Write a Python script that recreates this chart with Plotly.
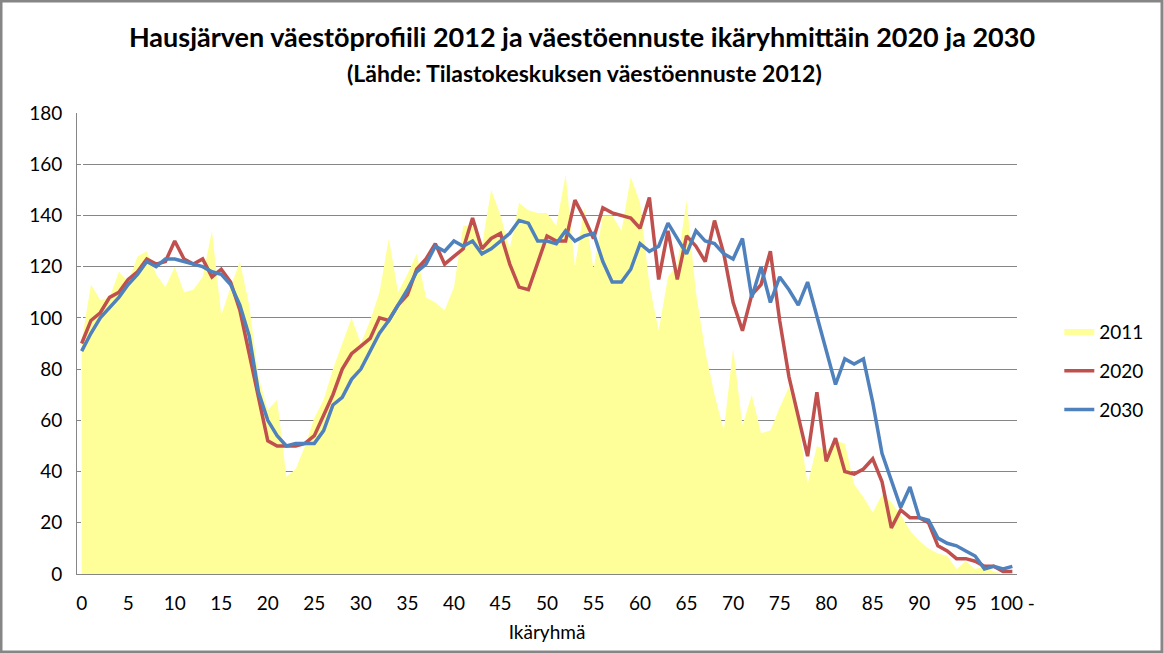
import plotly.graph_objects as go

# age groups 0..100 (last one is "100 -")
ages = list(range(101))
tick_vals = list(range(0, 101, 5))
tick_text = [str(v) for v in range(0, 100, 5)] + ["100 -"]

pop_2011 = [91, 113, 107, 108, 118, 114, 124, 126, 117, 112,
            120, 110, 111, 116, 134, 101, 112, 122, 105, 77,
            64, 68, 38, 41, 50, 61, 68, 80, 90, 100,
            90, 99, 110, 131, 110, 117, 125, 108, 106, 103,
            112, 136, 136, 128, 150, 140, 127, 145, 142, 141,
            141, 136, 156, 120, 143, 119, 140, 140, 134, 155,
            145, 113, 95, 116, 121, 146, 110, 87, 70, 56,
            88, 58, 70, 55, 56, 65, 73, 60, 35, 50,
            48, 52, 51, 35, 30, 24, 31, 28, 23, 17,
            13, 10, 8, 7, 2, 5, 2, 3, 1, 0, 0]

pop_2020 = [90, 99, 102, 108, 110, 115, 118, 123, 121, 122,
            130, 123, 121, 123, 116, 119, 114, 103, 86, 69,
            52, 50, 50, 50, 51, 54, 62, 70, 80, 86,
            89, 92, 100, 99, 105, 109, 119, 123, 129, 121,
            124, 127, 139, 127, 131, 133, 121, 112, 111, 121,
            132, 130, 130, 146, 139, 131, 143, 141, 140, 139,
            135, 147, 115, 134, 115, 132, 128, 122, 138, 125,
            106, 95, 109, 113, 126, 99, 77, 61, 46, 71,
            44, 53, 40, 39, 41, 45, 36, 18, 25, 22,
            22, 20, 11, 9, 6, 6, 5, 3, 3, 1, 1]

pop_2030 = [87, 94, 100, 104, 108, 113, 117, 122, 120, 123,
            123, 122, 121, 120, 118, 117, 113, 105, 93, 71,
            60, 54, 50, 51, 51, 51, 56, 66, 69, 76,
            80, 87, 94, 99, 105, 111, 118, 121, 128, 126,
            130, 128, 130, 125, 127, 130, 133, 138, 137, 130,
            130, 129, 134, 130, 132, 133, 122, 114, 114, 119,
            129, 126, 128, 137, 131, 125, 134, 130, 129, 125,
            123, 131, 108, 120, 106, 116, 111, 105, 114, 101,
            88, 74, 84, 82, 84, 67, 47, 36, 26, 34,
            22, 21, 14, 12, 11, 9, 7, 2, 3, 2, 3]

FONT = "Lato, Calibri, sans-serif"
GRID = "#868686"

fig = go.Figure()
fig.add_trace(go.Scatter(
    x=ages, y=pop_2011, name="2011", mode="none",
    fill="tozeroy", fillcolor="#FFFF99", legendgroup="a",
))
fig.add_trace(go.Scatter(
    x=ages, y=pop_2020, name="2020", mode="lines",
    line=dict(color="#C0504D", width=3.5), legendgroup="b",
))
fig.add_trace(go.Scatter(
    x=ages, y=pop_2030, name="2030", mode="lines",
    line=dict(color="#4F81BD", width=3.5), legendgroup="c",
))

fig.update_layout(
    width=1164, height=653,
    margin=dict(l=77, r=147, t=113, b=79),
    paper_bgcolor="white", plot_bgcolor="white",
    font=dict(family=FONT, size=18, color="black"),
    title=dict(
        text="<b>Hausjärven väestöprofiili 2012 ja väestöennuste ikäryhmittäin 2020 ja 2030</b>",
        x=0.5, xanchor="center", y=1 - 38 / 653, yanchor="middle",
        font=dict(size=27),
    ),
    annotations=[dict(
        text="<b>(Lähde: Tilastokeskuksen väestöennuste 2012)</b>",
        xref="paper", yref="paper", x=(584 - 77) / 940, y=(574 - 73) / 461,
        xanchor="center", yanchor="middle", showarrow=False,
        font=dict(size=23),
    )],
    legend=dict(
        x=1.045, y=0.44, xanchor="left", yanchor="middle",
        tracegroupgap=11, font=dict(size=19),
    ),
    shapes=[dict(
        type="rect", xref="paper", yref="paper",
        x0=-76 / 940, x1=(1162 - 77) / 940, y0=-78 / 461, y1=(652 - 79) / 461,
        line=dict(color=GRID, width=3),
    )],
)
fig.update_xaxes(
    range=[-0.5, 100.5], tickvals=tick_vals, ticktext=tick_text,
    showgrid=False, showline=True, linecolor=GRID, linewidth=1,
    ticks="outside", ticklen=12, tickcolor="rgba(0,0,0,0)",
    tickfont=dict(size=19),
    title=dict(text="Ikäryhmä", font=dict(size=19), standoff=12),
)
fig.update_yaxes(
    range=[0, 180], dtick=20, showgrid=True, gridcolor=GRID, gridwidth=1,
    showline=True, linecolor=GRID, linewidth=1, zeroline=False,
    ticks="outside", ticklen=10, tickcolor="rgba(0,0,0,0)",
    tickfont=dict(size=19),
)

fig.write_html(
    "out.html",
    config={"displayModeBar": False},
    post_script="document.body.style.margin='0';",
)
